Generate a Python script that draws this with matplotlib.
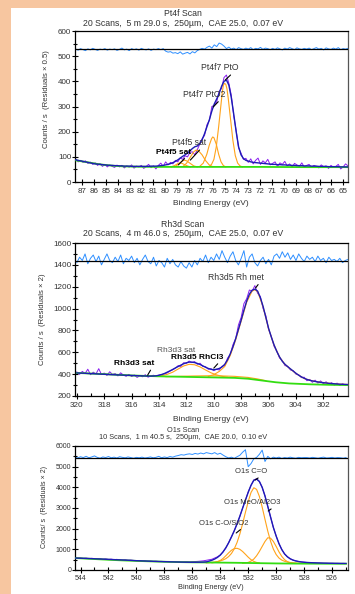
import numpy as np
import matplotlib
matplotlib.use('Agg')
import matplotlib.pyplot as plt
from matplotlib.patches import Rectangle
from matplotlib.ticker import MultipleLocator

plt.rcParams['font.family'] = ['Liberation Sans', 'DejaVu Sans']

# ======================= Pt4f =======================
pt_title = "Pt4f Scan"
pt_sub = "20 Scans,  5 m 29.0 s,  250\u00b5m,  CAE 25.0,  0.07 eV"
pt_ylabel = "Counts / s  (Residuals \u00d7 0.5)"
pt_be = np.linspace(87.55, 64.6, 113)
pt_raw = [92, 80, 86, 78, 84, 74, 79, 70, 76, 66, 73, 62, 70, 60, 68, 62,
          58, 67, 60, 66, 56, 64, 59, 68, 55, 63, 60, 66, 54, 62, 70, 57, 64, 52, 66,
          75, 62, 80, 68, 78, 72,
          86, 80, 96, 90, 104, 100, 118, 120, 108, 128,
          150, 172, 185, 228, 245, 300, 305, 318, 360, 372, 415, 425, 392, 345, 262, 205, 135, 115, 90, 94,
          78, 92, 72, 86, 95, 70, 84, 76, 90, 68,
          74, 80, 62, 76, 70, 82, 64, 72, 58, 74, 68, 62, 76, 60, 66,
          70, 58, 66, 62, 56, 68, 60, 64, 54, 66, 58, 62, 70, 52, 60, 72, 64]
pt_env = [88, 86, 84, 82, 80, 78, 76, 74, 72, 71, 70, 69, 68, 67, 66, 66,
          65, 65, 64, 64, 63, 63, 63, 62, 62, 62, 62, 62, 62, 62, 62, 63, 63, 63, 64,
          65, 66, 68, 70, 73, 77,
          82, 88, 95, 102, 108, 115, 124, 133, 140, 143,
          152, 168, 192, 220, 248, 282, 310, 330, 352, 380, 400, 405, 385, 335, 270, 200, 140, 108, 93, 86,
          83, 80, 78, 77, 76, 75, 74, 73, 72, 71,
          70, 70, 69, 69, 68, 68, 67, 67, 66, 66, 65, 65, 65, 64, 64,
          64, 63, 63, 63, 62, 62, 62, 62, 61, 61, 61, 61, 61, 60, 60, 60, 60]
pt_resid = [528, 524, 530, 526, 522, 529, 525, 531, 527, 523, 528, 526, 530, 524, 528, 526,
            529, 523, 527, 532, 525, 528, 522, 530, 526, 529, 524, 531, 527, 525, 529, 523, 528, 526, 530,
            526, 530, 520, 516, 518, 512,
            514, 510, 517, 508, 512, 515, 509, 518, 513, 522,
            527, 531, 528, 535, 540, 532, 545, 538, 552, 548, 540, 530, 536, 528, 532, 526, 534, 530, 527, 532,
            528, 534, 526, 531, 529, 535, 527, 532, 530, 526,
            531, 527, 533, 529, 525, 532, 528, 534, 530, 526, 533, 529, 527, 531, 528,
            532, 526, 530, 534, 528, 531, 525, 533, 529, 527, 532, 528, 534, 526, 530, 528, 531]
pt_resid_zero = 527
pt_bg_be = [87.55, 86.5, 85.5, 84.5, 83.5, 82.5, 80.5, 78, 76, 74, 72, 68, 64.6]
pt_bg = [86, 78, 70, 65, 62, 61, 60, 60, 60, 60, 60, 59, 59]
pt_comp_be = [
    [76.3, 76.1, 75.9, 75.7, 75.5, 75.3, 75.2, 75.1, 75.0, 74.9, 74.8, 74.7, 74.5, 74.3, 74.1, 73.9, 73.7, 73.5],
    [77.1, 76.8, 76.5, 76.3, 76.1, 76.0, 75.9, 75.7, 75.5, 75.3, 75.1, 74.9],
    [78.5, 78.2, 77.9, 77.6, 77.4, 77.2, 76.9, 76.6, 76.3, 76.0],
    [79.2, 78.9, 78.6, 78.4, 78.2, 77.9, 77.6, 77.3],
    [79.5, 79.2, 78.9, 78.7, 78.5, 78.2, 77.9],
]
pt_comp = [
    [62, 70, 90, 140, 220, 310, 355, 385, 392, 388, 370, 335, 250, 165, 105, 75, 64, 60],
    [62, 75, 110, 145, 172, 179, 176, 150, 110, 80, 65, 60],
    [62, 75, 98, 120, 127, 124, 108, 85, 68, 61],
    [61, 70, 82, 87, 84, 74, 64, 60],
    [60, 66, 74, 76, 72, 65, 60],
]
pt_labels = ["Pt4f7 PtO", "Pt4f7 PtO2", "Pt4f5 sat", "Pt4f5 sat"]

# ======================= Rh3d =======================
rh_title = "Rh3d Scan"
rh_sub = "20 Scans,  4 m 46.0 s,  250\u00b5m,  CAE 25.0,  0.07 eV"
rh_ylabel = "Counts / s  (Residuals \u00d7 2)"
rh_be = np.linspace(320.0, 300.2, 100)
rh_raw = [420, 398, 425, 405, 445, 395, 418, 402, 450, 396, 410, 388, 422, 398, 405, 384, 412, 392, 380, 398,
          378, 392, 370, 386, 376, 395, 372, 384, 390, 378, 392, 396, 402, 412, 428, 440,
          455, 478, 470, 505, 498, 520, 505, 515, 490, 500, 470, 468, 445, 450, 432,
          445, 438, 472, 480, 545, 580, 670, 725, 850, 920, 1045, 1090, 1170, 1160, 1210, 1140, 1110, 1000, 935, 810,
          745, 655, 612, 548, 525, 478, 472, 438, 432, 400, 395, 368, 372, 340, 352,
          325, 345, 318, 338, 312, 330, 305, 322, 300, 318, 296, 312, 300, 305]
rh_env = [411, 410, 409, 408, 406, 405, 404, 403, 401, 400, 399, 398, 396, 395, 394, 393, 392, 391, 390, 389,
          388, 387, 386, 385, 384, 383, 382, 382, 383, 385, 390, 397, 406, 418, 430, 443,
          457, 470, 483, 495, 504, 510, 510, 506, 498, 488, 476, 463, 452, 444, 440,
          445, 452, 466, 490, 530, 585, 650, 725, 810, 895, 985, 1068, 1132, 1168, 1178, 1160, 1100, 1020, 920, 820,
          740, 668, 608, 558, 518, 490, 468, 448, 428, 408, 390, 375, 362, 352, 344,
          338, 333, 329, 325, 322, 319, 316, 314, 312, 310, 308, 307, 306, 305]
rh_resid = [1420, 1470, 1440, 1500, 1410, 1460, 1490, 1430, 1480, 1400, 1450, 1500, 1440, 1420, 1470, 1430, 1490, 1410, 1460, 1440,
            1480, 1420, 1460, 1400, 1450, 1490, 1430, 1410, 1470, 1390, 1440, 1420, 1380, 1460, 1410, 1450,
            1400, 1380, 1430, 1390, 1370, 1420, 1380, 1440, 1400, 1460, 1430, 1490, 1420, 1470, 1440,
            1500, 1450, 1530, 1470, 1420, 1480, 1520, 1440, 1400, 1460, 1530, 1380, 1470, 1500, 1420, 1390, 1440, 1470, 1410, 1450,
            1400, 1480, 1500, 1460, 1520, 1470, 1510, 1450, 1490, 1440, 1500, 1460, 1430, 1480, 1450,
            1470, 1430, 1480, 1440, 1460, 1420, 1470, 1440, 1450, 1430, 1460, 1420, 1440, 1450]
rh_resid_zero = 1437
rh_bg_be = [320, 318, 316, 314, 312, 310, 308.5, 307.5, 306.5, 305.5, 304.5, 303, 301.5, 300.2]
rh_bg = [411, 400, 388, 380, 375, 370, 366, 358, 342, 326, 315, 307, 302, 300]
rh_comp_be = [
    [310.4, 310.0, 309.6, 309.2, 308.8, 308.4, 308.0, 307.6, 307.2, 307.0, 306.8, 306.4, 306.0, 305.6, 305.2,
     304.8, 304.4, 304.0, 303.4, 302.8, 302.0, 301.0, 300.2],
    [314.2, 313.8, 313.4, 313.0, 312.6, 312.2, 311.8, 311.4, 311.0, 310.6, 310.2, 309.8, 309.4, 309.0],
    [313.5, 312.5, 311.5, 310.5, 309.5, 308.5, 307.5, 306.8, 306.2],
]
rh_comp = [
    [380, 395, 425, 470, 570, 715, 885, 1058, 1160, 1172, 1155, 1015, 815, 665, 556,
     488, 446, 406, 360, 338, 322, 310, 305],
    [380, 386, 398, 418, 447, 475, 490, 486, 466, 438, 412, 393, 380, 372],
    [377, 380, 383, 385, 384, 380, 370, 356, 340],
]
rh_labels = ["Rh3d5 Rh met", "Rh3d3 sat", "Rh3d5 RhCl3", "Rh3d3 sat"]

# ======================= O1s =======================
o_title = "O1s Scan"
o_sub = "10 Scans,  1 m 40.5 s,  250\u00b5m,  CAE 20.0,  0.10 eV"
o_ylabel = "Counts/ s  (Residuals \u00d7 2)"
o_be = np.linspace(544.4, 525.0, 98)
o_raw = [590, 572, 585, 560, 575, 548, 566, 552, 540, 545, 522, 538, 510, 525, 500, 515, 492, 480, 496, 470, 478, 462, 455,
         452, 438, 446, 428, 432, 418, 425, 410, 415, 402, 408, 396, 402, 392, 398, 388, 395, 400, 392, 405, 410, 418, 430, 445, 470,
         495, 520, 580, 640, 730, 870, 1060, 1320, 1610, 1890, 2240, 2590, 3010, 3370, 3780, 4090, 4360, 4410, 4290, 3990,
         3590, 3070, 2570, 2050, 1650, 1270, 1000, 775, 645, 540, 485, 438, 412, 388, 378,
         362, 360, 348, 347, 338, 338, 330, 331, 324, 326, 320, 322, 316, 319, 314]
o_env = [580, 575, 570, 566, 561, 556, 550, 544, 538, 532, 526, 520, 514, 508, 502, 496, 490, 484, 478, 472, 466, 458, 450,
         445, 440, 435, 430, 425, 420, 416, 412, 408, 404, 400, 396, 392, 389, 386, 383, 380, 378, 376, 375, 375, 376, 379, 384, 392,
         430, 470, 530, 610, 720, 880, 1080, 1320, 1600, 1900, 2230, 2600, 2990, 3380, 3760, 4100, 4340, 4400, 4280, 4000,
         3580, 3080, 2560, 2060, 1640, 1280, 990, 780, 640, 545, 480, 440, 410, 390, 375,
         365, 357, 350, 345, 340, 336, 332, 329, 326, 324, 322, 320, 318, 317, 316]
o_resid = [5460, 5420, 5480, 5440, 5500, 5430, 5470, 5520, 5450, 5410, 5470, 5440, 5490, 5430, 5460, 5420, 5480, 5450, 5430, 5470, 5440, 5410, 5450,
           5430, 5460, 5420, 5440, 5470, 5430, 5450, 5500, 5430, 5470, 5440, 5490, 5460, 5510, 5540, 5580, 5560, 5600, 5620, 5590, 5640, 5610, 5660, 5620, 5680,
           5650, 5620, 5680, 5600, 5650, 5560, 5480, 5420, 5460, 5400, 5480, 5550, 5700, 5820, 5000, 5150, 5380, 5450, 5600, 5800,
           5250, 5500, 5380, 5460, 5420, 5460, 5400, 5440, 5420, 5460, 5430, 5410, 5450, 5430, 5440,
           5440, 5420, 5450, 5430, 5410, 5440, 5460, 5420, 5430, 5450, 5420, 5440, 5430, 5410, 5440]
o_resid_zero = 5430
o_bg_be = [544.4, 543, 542, 541, 540, 539, 538, 537, 536, 535, 534, 533, 532, 531, 530, 529, 528, 526, 525.0]
o_bg = [578, 530, 495, 465, 440, 418, 398, 383, 372, 365, 358, 350, 340, 328, 318, 312, 308, 304, 302]
o_comp_be = [
    list(np.round(np.arange(535.0, 527.99, -0.2), 1)),
    list(np.round(np.arange(534.6, 531.19, -0.2), 1)),
    list(np.round(np.arange(532.4, 528.59, -0.2), 1)),
]
o_comp = [
    [345, 355, 368, 385, 408, 440, 485, 550, 650, 800, 1020, 1330, 1740, 2240, 2790, 3310, 3750, 3980, 3900, 3560,
     3040, 2450, 1880, 1390, 1010, 750, 580, 480, 420, 385, 362, 348, 338, 331, 326, 322],
    [345, 365, 400, 460, 560, 690, 830, 955, 1035, 1050, 1000, 895, 760, 620, 500, 415, 365, 340],
    [325, 340, 370, 430, 530, 690, 900, 1140, 1380, 1560, 1540, 1380, 1140, 880, 660, 500, 405, 355, 330, 318],
]
o_labels = ["O1s C=O", "O1s MeO/Al2O3", "O1s C-O/SiO2"]

# ======================= styling =======================
C_RAW = '#8A1CF0'
C_ENV = '#1C1CB4'
C_COMP = '#FFA31A'
C_BG = '#33DD11'
C_RES = '#2E8FFF'
PEACH = '#F7C6A0'
TXT = '#333333'

W, H = 355.0, 594.0
fig = plt.figure(figsize=(3.55, 5.94), dpi=100, facecolor=PEACH)
fig.add_artist(Rectangle((11 / W, 0), 1 - 11 / W, 1 - 8 / H, transform=fig.transFigure,
                         facecolor='white', edgecolor='none', zorder=0))

AX_L = 74.5 / W
AX_W = (348 - 74.5) / W


def make_axes(top_px, bot_px):
    return fig.add_axes([AX_L, 1 - bot_px / H, AX_W, (bot_px - top_px) / H])


def draw_panel(ax, be, raw, env, resid, rzero, bg_be, bg, cbe, comp):
    ax.plot(be, resid, color=C_RES, lw=0.7, zorder=2)
    ax.axhline(rzero, color='black', lw=0.9, zorder=3)
    ax.plot(be, raw, color=C_RAW, lw=0.7, zorder=2)
    for cx, cy in zip(cbe, comp):
        ax.plot(cx, cy, color=C_COMP, lw=0.8, zorder=3)
    ax.plot(bg_be, bg, color=C_BG, lw=1.3, zorder=4)
    ax.plot(be, env, color=C_ENV, lw=1.0, zorder=5)


def style(ax, fs, xmaj, xmin, ymaj, ymin, xpad):
    for s in ['left', 'bottom', 'top']:
        ax.spines[s].set_linewidth(0.9)
        ax.spines[s].set_color('black')
    ax.spines['right'].set_linewidth(0.9)
    ax.spines['right'].set_color('#555555')
    ax.xaxis.set_major_locator(MultipleLocator(xmaj))
    if xmin:
        ax.xaxis.set_minor_locator(MultipleLocator(xmin))
    ax.yaxis.set_major_locator(MultipleLocator(ymaj))
    ax.yaxis.set_minor_locator(MultipleLocator(ymin))
    ax.tick_params(axis='x', which='major', direction='inout', length=4, width=0.8,
                   labelsize=fs, pad=xpad, labelcolor=TXT)
    ax.tick_params(axis='x', which='minor', direction='in', length=2.5, width=0.8)
    ax.tick_params(axis='y', which='major', direction='inout', length=4, width=0.8,
                   labelsize=fs, pad=0.3, labelcolor=TXT)
    ax.tick_params(axis='y', which='minor', direction='inout', length=3, width=0.8)
    ax.tick_params(top=False, right=False, which='both')


def label(ax, text, tip, pos, fs, bold=False):
    ax.annotate(text, xy=tip, xytext=pos, ha='right', va='center', fontsize=fs,
                fontweight='bold' if bold else 'normal',
                color='black' if bold else TXT, zorder=6,
                arrowprops=dict(arrowstyle='-', color='black', lw=0.8, relpos=(1.0, 0.5),
                                shrinkA=0, shrinkB=0))


XC = 183 / W
XLC = 211 / W

# ---- panel 1 ----
ax1 = make_axes(31, 182)
draw_panel(ax1, pt_be, pt_raw, pt_env, pt_resid, pt_resid_zero, pt_bg_be, pt_bg, pt_comp_be, pt_comp)
ax1.set_xlim(87.65, 64.6)
ax1.set_ylim(0, 600)
style(ax1, 5.8, 1, None, 100, 50, 2.2)
label(ax1, pt_labels[0], (74.95, 405), (73.85, 454), 6.2)
label(ax1, pt_labels[1], (75.96, 298), (74.95, 348), 6.2)
label(ax1, pt_labels[2], (77.89, 87), (76.55, 156), 6.2)
label(ax1, pt_labels[3], (78.9, 68), (77.85, 118), 6.0, bold=True)
fig.text(XC, 1 - 13.3 / H, pt_title, ha='center', va='center', fontsize=6.3, color=TXT)
fig.text(XC, 1 - 23.3 / H, pt_sub, ha='center', va='center', fontsize=6.3, color=TXT)
fig.text(XLC, 1 - 203.3 / H, "Binding Energy (eV)", ha='center', va='center', fontsize=6.0, color=TXT)
fig.text(47 / W, 1 - 99 / H, pt_ylabel, rotation=90, ha='center', va='center', fontsize=5.6, color=TXT)

# ---- panel 2 ----
ax2 = make_axes(243, 396)
draw_panel(ax2, rh_be, rh_raw, rh_env, rh_resid, rh_resid_zero, rh_bg_be, rh_bg, rh_comp_be, rh_comp)
ax2.set_xlim(320.17, 300.2)
ax2.set_ylim(200, 1600)
style(ax2, 5.9, 2, 1, 200, 100, 2.2)
label(ax2, rh_labels[0], (306.95, 1188), (306.37, 1286), 6.2)
ax2.text(311.33, 618, rh_labels[1], ha='right', va='center', fontsize=6.0, color='#555555', zorder=6)
label(ax2, rh_labels[2], (310.0, 455), (309.3, 552), 6.0, bold=True)
label(ax2, rh_labels[3], (314.83, 391), (314.35, 494), 6.0, bold=True)
fig.text(XC, 1 - 224.3 / H, rh_title, ha='center', va='center', fontsize=6.3, color=TXT)
fig.text(XC, 1 - 233.3 / H, rh_sub, ha='center', va='center', fontsize=6.3, color=TXT)
fig.text(XLC, 1 - 419.7 / H, "Binding Energy (eV)", ha='center', va='center', fontsize=6.0, color=TXT)
fig.text(43 / W, 1 - 319 / H, rh_ylabel, rotation=90, ha='center', va='center', fontsize=5.6, color=TXT)

# ---- panel 3 ----
ax3 = make_axes(446, 570)
draw_panel(ax3, o_be, o_raw, o_env, o_resid, o_resid_zero, o_bg_be, o_bg, o_comp_be, o_comp)
ax3.set_xlim(544.43, 524.86)
ax3.set_ylim(0, 6000)
style(ax3, 5.0, 2, 1, 1000, 500, 1.5)
label(ax3, o_labels[0], (531.5, 4355), (530.64, 4757), 5.5)
label(ax3, o_labels[1], (530.57, 2855), (529.71, 3257), 5.5)
label(ax3, o_labels[2], (532.86, 1790), (532.0, 2260), 5.5)
fig.text(XC, 1 - 430.5 / H, o_title, ha='center', va='center', fontsize=5.3, color=TXT)
fig.text(XC, 1 - 437.8 / H, o_sub, ha='center', va='center', fontsize=5.3, color=TXT)
fig.text(XLC, 1 - 587.3 / H, "Binding Energy (eV)", ha='center', va='center', fontsize=5.3, color=TXT)
fig.text(45 / W, 1 - 507 / H, o_ylabel, rotation=90, ha='center', va='center', fontsize=5.0, color=TXT)

fig.savefig('out.png', dpi=100, facecolor=fig.get_facecolor())
